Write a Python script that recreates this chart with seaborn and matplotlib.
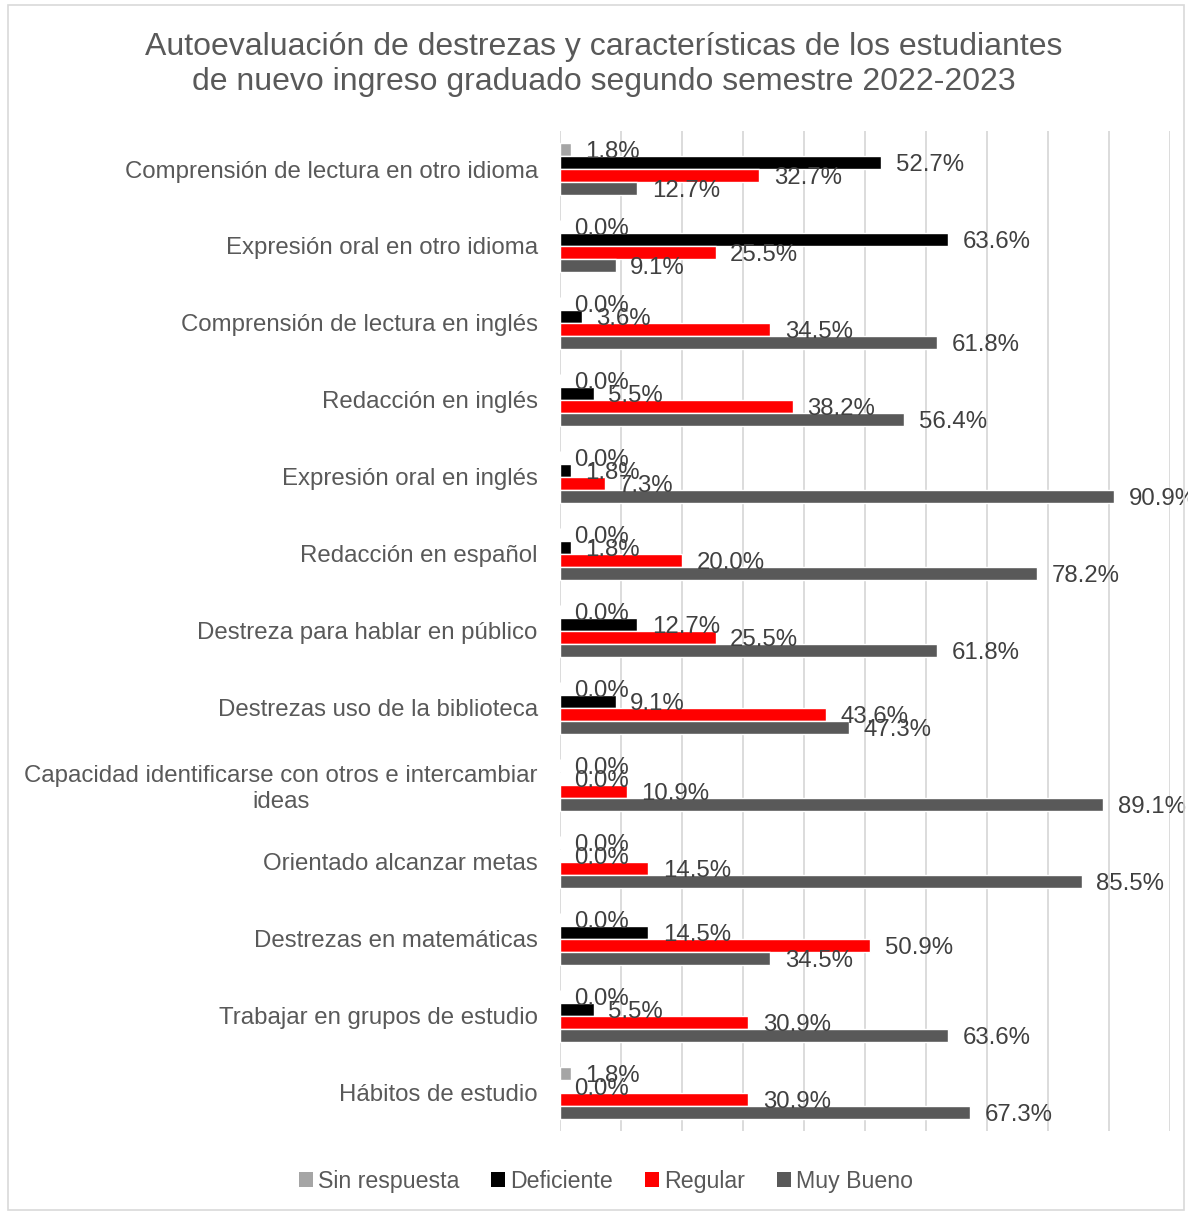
import pandas as pd
import seaborn as sns
import matplotlib.pyplot as plt
from matplotlib.patches import Patch, Rectangle

# categorías (de arriba hacia abajo)
categories = [
    "Comprensión de lectura en otro idioma",
    "Expresión oral en otro idioma",
    "Comprensión de lectura en inglés",
    "Redacción en inglés",
    "Expresión oral en inglés",
    "Redacción en español",
    "Destreza para hablar en público",
    "Destrezas uso de la biblioteca",
    "Capacidad identificarse con otros e intercambiar\nideas",
    "Orientado alcanzar metas",
    "Destrezas en matemáticas",
    "Trabajar en grupos de estudio",
    "Hábitos de estudio",
]
series = ["Sin respuesta", "Deficiente", "Regular", "Muy Bueno"]
sin_respuesta = [1.8, 0.0, 0.0, 0.0, 0.0, 0.0, 0.0, 0.0, 0.0, 0.0, 0.0, 0.0, 1.8]
deficiente = [52.7, 63.6, 3.6, 5.5, 1.8, 1.8, 12.7, 9.1, 0.0, 0.0, 14.5, 5.5, 0.0]
regular = [32.7, 25.5, 34.5, 38.2, 7.3, 20.0, 25.5, 43.6, 10.9, 14.5, 50.9, 30.9, 30.9]
muy_bueno = [12.7, 9.1, 61.8, 56.4, 90.9, 78.2, 61.8, 47.3, 89.1, 85.5, 34.5, 63.6, 67.3]
colors = ["#A5A5A5", "#000000", "#FF0000", "#595959"]

title = ("Autoevaluación de destrezas y características de los estudiantes\n"
         "de nuevo ingreso graduado segundo semestre 2022-2023")

rows = []
for name, vals in zip(series, [sin_respuesta, deficiente, regular, muy_bueno]):
    for cat, v in zip(categories, vals):
        rows.append({"categoria": cat, "serie": name, "valor": v})
df = pd.DataFrame(rows)

sns.set_style("white")
plt.rcParams["font.family"] = ["Liberation Sans", "DejaVu Sans"]

fig = plt.figure(figsize=(11.88, 12.14), dpi=100)
ax = fig.add_axes([0.4714, 0.068, 0.5134, 0.8245])

sns.barplot(data=df, x="valor", y="categoria", hue="serie", order=categories,
            hue_order=series, palette=colors, orient="h", width=0.68,
            saturation=1, ax=ax, legend=False)

for cont in ax.containers:
    texts = ax.bar_label(cont, labels=[f"{b.get_width():.1f}%" for b in cont],
                         padding=10.5, fontsize=17.3, color="#404040")
    for t in texts:
        t.set_va("center_baseline")

ax.set_xlim(0, 100)
ax.set_xticks(range(0, 101, 10))
ax.set_xticklabels([])
ax.grid(axis="x", color="#D9D9D9", linewidth=1.3)
ax.set_axisbelow(True)
ax.tick_params(axis="x", length=6, color="#D9D9D9", width=1.3)
ax.tick_params(axis="y", length=0, pad=16, labelsize=17.3, labelcolor="#595959")
for lbl in ax.get_yticklabels():
    lbl.set_multialignment("center")
for s in ax.spines.values():
    s.set_visible(False)
ax.set_xlabel("")
ax.set_ylabel("")

fig.text(0.508, 0.947, title, ha="center", va="center", fontsize=23,
         color="#595959", linespacing=1.22)

handles = [Patch(facecolor=c, edgecolor="none") for c in colors]
fig.legend(handles, series, loc="center", bbox_to_anchor=(0.51, 0.027), ncol=4,
           frameon=False, fontsize=16.7, labelcolor="#595959", handlelength=0.6,
           handleheight=0.6, handletextpad=0.2, columnspacing=1.4)

fig.patches.append(Rectangle((0.007, 0.003), 0.99, 0.993, transform=fig.transFigure,
                             fill=False, edgecolor="#D9D9D9", linewidth=1.2))

fig.savefig("out.png", dpi=100)
